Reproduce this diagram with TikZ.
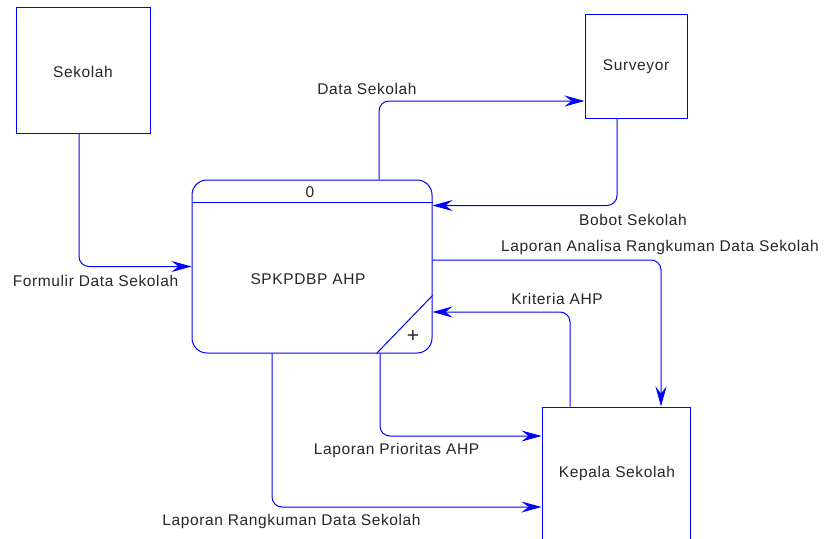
\documentclass[tikz,border=0pt]{standalone}
\usepackage{fontspec}
\setmainfont[LetterSpace=4]{Liberation Sans}
\usetikzlibrary{arrows.meta}
\tikzset{
	entitas/.style={draw=blue, line width=1pt, rectangle, inner sep=0pt},
	alur/.style={draw=blue, line width=1pt, rounded corners=10pt, -{Stealth[length=20pt, width=11pt, inset=7pt]}},
	teks/.style={text=black!85, font=\fontsize{15.5}{18}\selectfont, inner sep=0pt}
}

\begin{document}
\begin{tikzpicture}[x=1pt, y=-1pt]
			%%%%% START %%%%%
			\useasboundingbox (0, 0) rectangle (824, 538);
			
			\node[entitas, minimum width=134pt, minimum height=126pt] (sekolah) at (83, 70) {};
			\node[teks] (tsekolah) at (83, 72) {Sekolah};
			
			\node[entitas, minimum width=102pt, minimum height=104pt] (surveyor) at (636, 66) {};
			\node[teks] (tsurveyor) at (636, 67) {Surveyor};
			
			\node[entitas, minimum width=148pt, minimum height=134pt] (kepala) at (616, 474) {};
			\node[teks] (tkepala) at (617, 473) {Kepala Sekolah};
			
			\node[entitas, rounded corners=15pt, minimum width=240pt, minimum height=173pt] (proses) at (312, 266.5) {};
			\draw[blue, line width=1pt] ([yshift=-23pt]proses.north west) -- ([yshift=-23pt]proses.north east);
			\draw[blue, line width=1pt] ([yshift=58pt]proses.south east) -- ([xshift=-56pt]proses.south east);
			\node[teks] (nomor) at (310, 192) {0};
			\node[teks] (tproses) at (308, 279) {SPKPDBP AHP};
			\node[teks, font=\fontsize{21}{24}\selectfont] (plus) at (413, 336) {+};
			
			\draw[alur] ([xshift=-4pt]sekolah.south) |- (proses.west);
			\node[teks] (formulir) at (95.5, 281) {Formulir Data Sekolah};
			
			\draw[alur] ([xshift=67pt]proses.north) |- ([yshift=-35pt]surveyor.west);
			\node[teks] (datasekolah) at (367, 89) {Data Sekolah};
			
			\draw[alur] ([xshift=-19pt]surveyor.south) |- ([yshift=-26pt]proses.north east);
			\node[teks] (bobot) at (633, 220) {Bobot Sekolah};
			
			\draw[alur] ([yshift=6.5pt]proses.east) -| ([xshift=45pt]kepala.north);
			\node[teks] (analisa) at (660, 247) {Laporan Analisa Rangkuman Data Sekolah};
			
			\draw[alur] ([xshift=-46pt]kepala.north) |- ([yshift=-45.5pt]proses.east);
			\node[teks] (kriteria) at (557, 299) {Kriteria AHP};
			
			\draw[alur] ([xshift=68pt]proses.south) |- ([yshift=38pt]kepala.west);
			\node[teks] (prioritas) at (396.5, 450) {Laporan Prioritas AHP};
			
			\draw[alur] ([xshift=-40pt]proses.south) |- ([yshift=-33pt]kepala.west);
			\node[teks] (rangkuman) at (291.5, 521) {Laporan Rangkuman Data Sekolah};
			
			%%%%% END %%%%%
\end{tikzpicture}
\end{document}
